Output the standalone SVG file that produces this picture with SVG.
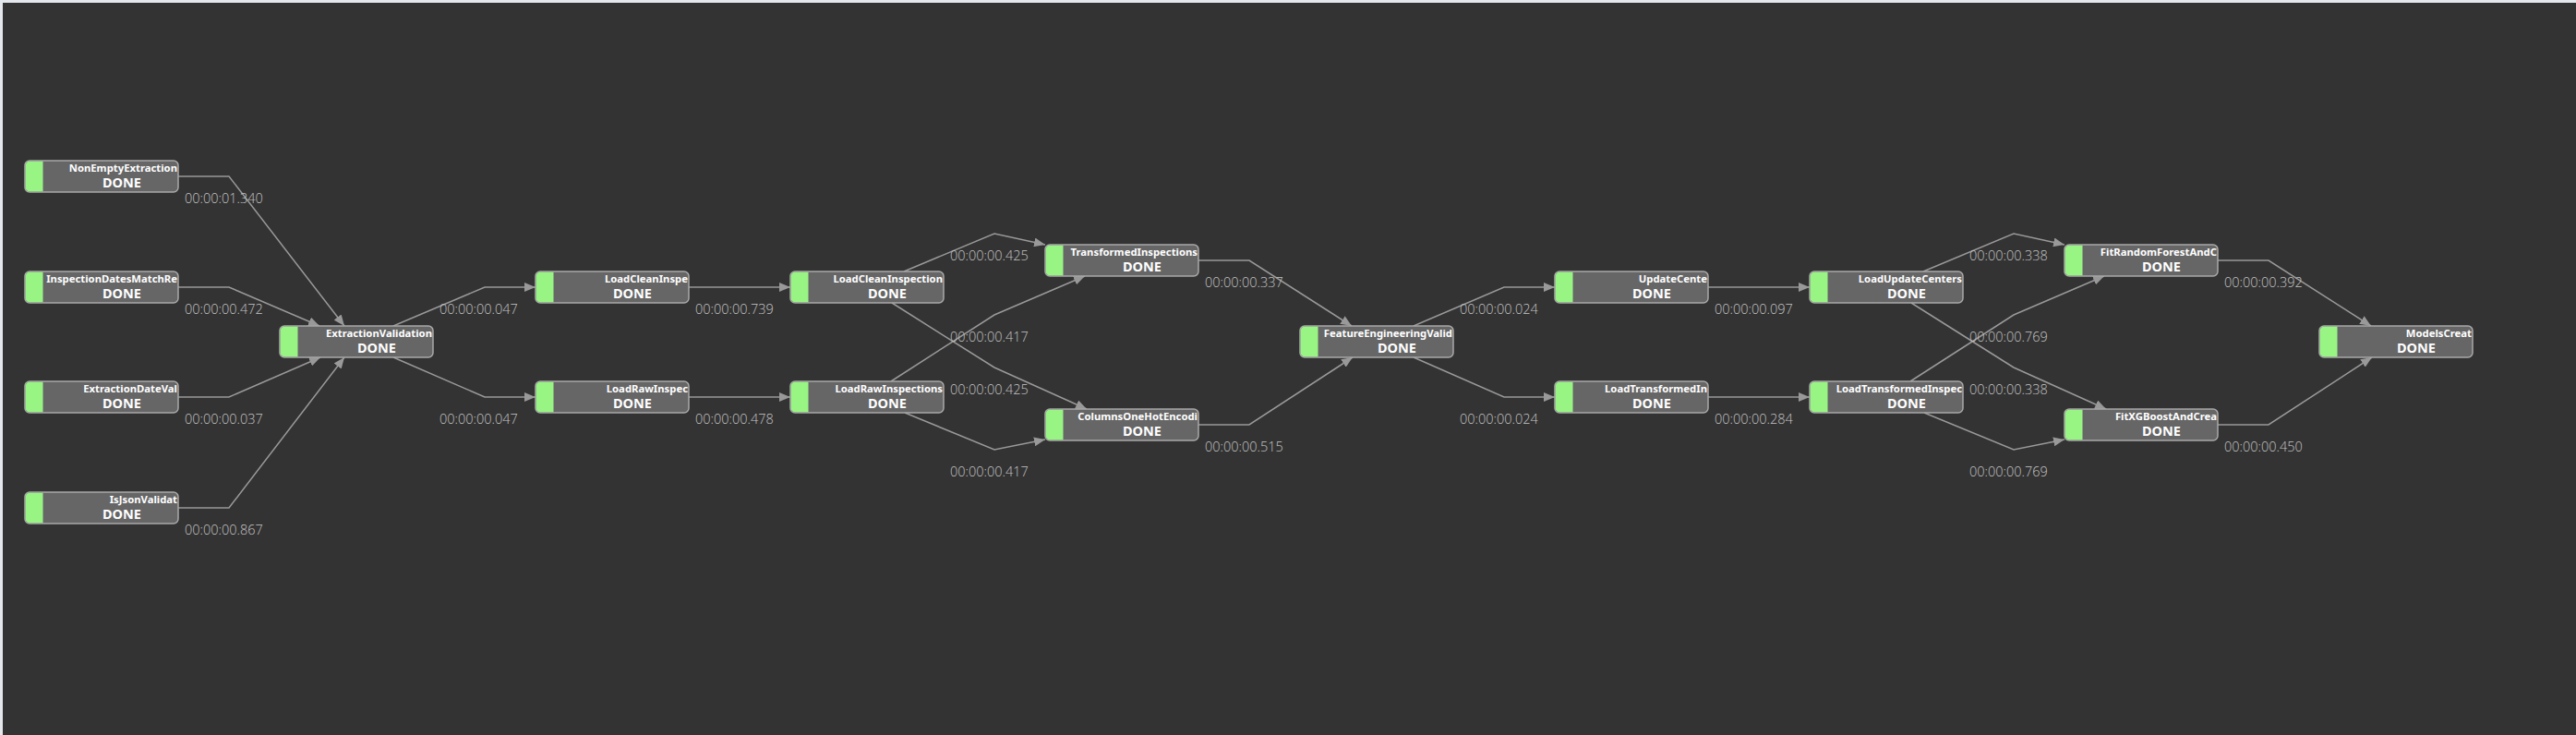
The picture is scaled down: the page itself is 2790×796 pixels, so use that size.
<svg xmlns="http://www.w3.org/2000/svg" width="2790" height="796" viewBox="0 0 2790 796">
<defs>
<style>
.box{fill:#666666;stroke:#a9a9a9;stroke-width:1.5}
.bar{fill:#98f584}
.name{font-family:"Noto Sans","Open Sans","Liberation Sans",sans-serif;font-weight:700;font-size:11.3px;fill:#ffffff;text-anchor:end}
.st{font-family:"Noto Sans","Open Sans","Liberation Sans",sans-serif;font-weight:700;font-size:14.5px;fill:#ffffff;text-anchor:middle}
.lbl{font-family:"Open Sans","Noto Sans","Liberation Sans",sans-serif;font-weight:300;font-size:14.5px;fill:#c4c4c4}
.edge{fill:none;stroke:#999999;stroke-width:1.5}
</style>
<marker id="arr" viewBox="0 0 12 10" refX="12" refY="5" markerWidth="12" markerHeight="10" markerUnits="userSpaceOnUse" orient="auto">
<path d="M0,0 L12,5 L0,10 z" fill="#999999"/>
</marker>
</defs>
<rect x="0" y="0" width="2790" height="796" fill="#e4e7eb"/>
<rect x="3" y="3" width="2787" height="793" fill="#333333"/>

<g id="connectors">
<polyline class="edge" marker-end="url(#arr)" points="193,191 248,191 373,353"/>
<polyline class="edge" marker-end="url(#arr)" points="193,311 248,311 346,353"/>
<polyline class="edge" marker-end="url(#arr)" points="193,430 248,430 347,387"/>
<polyline class="edge" marker-end="url(#arr)" points="193,550 248,550 373,387"/>
<polyline class="edge" marker-end="url(#arr)" points="426,353 525,311 580,311"/>
<polyline class="edge" marker-end="url(#arr)" points="426,387 525,430 580,430"/>
<polyline class="edge" marker-end="url(#arr)" points="746,311 856,311"/>
<polyline class="edge" marker-end="url(#arr)" points="746,430 856,430"/>
<polyline class="edge" marker-end="url(#arr)" points="979,294 1077,253 1132,265"/>
<polyline class="edge" marker-end="url(#arr)" points="966,328 1077,398 1177,443"/>
<polyline class="edge" marker-end="url(#arr)" points="965,413 1077,341 1175,299"/>
<polyline class="edge" marker-end="url(#arr)" points="980,447 1077,487 1132,476"/>
<polyline class="edge" marker-end="url(#arr)" points="1298,282 1353,282 1464,353"/>
<polyline class="edge" marker-end="url(#arr)" points="1298,460 1353,460 1465,387"/>
<polyline class="edge" marker-end="url(#arr)" points="1531,353 1629,311 1684,311"/>
<polyline class="edge" marker-end="url(#arr)" points="1531,387 1629,430 1684,430"/>
<polyline class="edge" marker-end="url(#arr)" points="1850,311 1960,311"/>
<polyline class="edge" marker-end="url(#arr)" points="1850,430 1960,430"/>
<polyline class="edge" marker-end="url(#arr)" points="2083,294 2181,253 2236,265"/>
<polyline class="edge" marker-end="url(#arr)" points="2070,328 2181,398 2281,443"/>
<polyline class="edge" marker-end="url(#arr)" points="2069,413 2181,341 2279,299"/>
<polyline class="edge" marker-end="url(#arr)" points="2084,447 2181,487 2236,476"/>
<polyline class="edge" marker-end="url(#arr)" points="2402,282 2457,282 2568,353"/>
<polyline class="edge" marker-end="url(#arr)" points="2402,460 2457,460 2569,387"/>
<text class="lbl" x="200" y="220">00:00:01.340</text>
<text class="lbl" x="200" y="340">00:00:00.472</text>
<text class="lbl" x="200" y="459">00:00:00.037</text>
<text class="lbl" x="200" y="579">00:00:00.867</text>
<text class="lbl" x="476" y="340">00:00:00.047</text>
<text class="lbl" x="476" y="459">00:00:00.047</text>
<text class="lbl" x="753" y="340">00:00:00.739</text>
<text class="lbl" x="753" y="459">00:00:00.478</text>
<text class="lbl" x="1029" y="282">00:00:00.425</text>
<text class="lbl" x="1029" y="370">00:00:00.417</text>
<text class="lbl" x="1029" y="427">00:00:00.425</text>
<text class="lbl" x="1029" y="516">00:00:00.417</text>
<text class="lbl" x="1305" y="311">00:00:00.337</text>
<text class="lbl" x="1305" y="489">00:00:00.515</text>
<text class="lbl" x="1581" y="340">00:00:00.024</text>
<text class="lbl" x="1581" y="459">00:00:00.024</text>
<text class="lbl" x="1857" y="340">00:00:00.097</text>
<text class="lbl" x="1857" y="459">00:00:00.284</text>
<text class="lbl" x="2133" y="282">00:00:00.338</text>
<text class="lbl" x="2133" y="370">00:00:00.769</text>
<text class="lbl" x="2133" y="427">00:00:00.338</text>
<text class="lbl" x="2133" y="516">00:00:00.769</text>
<text class="lbl" x="2409" y="311">00:00:00.392</text>
<text class="lbl" x="2409" y="489">00:00:00.450</text>
</g>

<g id="n1" transform="translate(27,174)"><rect class="box" width="166" height="34" rx="5"/><path class="bar" d="M5,0.75 H19.5 V33.25 H5 A4.25,4.25 0 0 1 0.75,29 V5 A4.25,4.25 0 0 1 5,0.75 z"/><text class="name" x="165" y="11.5">NonEmptyExtraction</text><text class="st" x="105" y="28.5">DONE</text></g>
<g id="n2" transform="translate(27,294)"><rect class="box" width="166" height="34" rx="5"/><path class="bar" d="M5,0.75 H19.5 V33.25 H5 A4.25,4.25 0 0 1 0.75,29 V5 A4.25,4.25 0 0 1 5,0.75 z"/><text class="name" x="165" y="11.5">InspectionDatesMatchRe</text><text class="st" x="105" y="28.5">DONE</text></g>
<g id="n3" transform="translate(27,413)"><rect class="box" width="166" height="34" rx="5"/><path class="bar" d="M5,0.75 H19.5 V33.25 H5 A4.25,4.25 0 0 1 0.75,29 V5 A4.25,4.25 0 0 1 5,0.75 z"/><text class="name" x="165" y="11.5">ExtractionDateVal</text><text class="st" x="105" y="28.5">DONE</text></g>
<g id="n4" transform="translate(27,533)"><rect class="box" width="166" height="34" rx="5"/><path class="bar" d="M5,0.75 H19.5 V33.25 H5 A4.25,4.25 0 0 1 0.75,29 V5 A4.25,4.25 0 0 1 5,0.75 z"/><text class="name" x="165" y="11.5">IsJsonValidat</text><text class="st" x="105" y="28.5">DONE</text></g>
<g id="n5" transform="translate(303,353)"><rect class="box" width="166" height="34" rx="5"/><path class="bar" d="M5,0.75 H19.5 V33.25 H5 A4.25,4.25 0 0 1 0.75,29 V5 A4.25,4.25 0 0 1 5,0.75 z"/><text class="name" x="165" y="11.5">ExtractionValidation</text><text class="st" x="105" y="28.5">DONE</text></g>
<g id="n6" transform="translate(580,294)"><rect class="box" width="166" height="34" rx="5"/><path class="bar" d="M5,0.75 H19.5 V33.25 H5 A4.25,4.25 0 0 1 0.75,29 V5 A4.25,4.25 0 0 1 5,0.75 z"/><text class="name" x="165" y="11.5">LoadCleanInspe</text><text class="st" x="105" y="28.5">DONE</text></g>
<g id="n7" transform="translate(580,413)"><rect class="box" width="166" height="34" rx="5"/><path class="bar" d="M5,0.75 H19.5 V33.25 H5 A4.25,4.25 0 0 1 0.75,29 V5 A4.25,4.25 0 0 1 5,0.75 z"/><text class="name" x="165" y="11.5">LoadRawInspec</text><text class="st" x="105" y="28.5">DONE</text></g>
<g id="n8" transform="translate(856,294)"><rect class="box" width="166" height="34" rx="5"/><path class="bar" d="M5,0.75 H19.5 V33.25 H5 A4.25,4.25 0 0 1 0.75,29 V5 A4.25,4.25 0 0 1 5,0.75 z"/><text class="name" x="165" y="11.5">LoadCleanInspection</text><text class="st" x="105" y="28.5">DONE</text></g>
<g id="n9" transform="translate(856,413)"><rect class="box" width="166" height="34" rx="5"/><path class="bar" d="M5,0.75 H19.5 V33.25 H5 A4.25,4.25 0 0 1 0.75,29 V5 A4.25,4.25 0 0 1 5,0.75 z"/><text class="name" x="165" y="11.5">LoadRawInspections</text><text class="st" x="105" y="28.5">DONE</text></g>
<g id="n10" transform="translate(1132,265)"><rect class="box" width="166" height="34" rx="5"/><path class="bar" d="M5,0.75 H19.5 V33.25 H5 A4.25,4.25 0 0 1 0.75,29 V5 A4.25,4.25 0 0 1 5,0.75 z"/><text class="name" x="165" y="11.5">TransformedInspections</text><text class="st" x="105" y="28.5">DONE</text></g>
<g id="n11" transform="translate(1132,443)"><rect class="box" width="166" height="34" rx="5"/><path class="bar" d="M5,0.75 H19.5 V33.25 H5 A4.25,4.25 0 0 1 0.75,29 V5 A4.25,4.25 0 0 1 5,0.75 z"/><text class="name" x="165" y="11.5">ColumnsOneHotEncodi</text><text class="st" x="105" y="28.5">DONE</text></g>
<g id="n12" transform="translate(1408,353)"><rect class="box" width="166" height="34" rx="5"/><path class="bar" d="M5,0.75 H19.5 V33.25 H5 A4.25,4.25 0 0 1 0.75,29 V5 A4.25,4.25 0 0 1 5,0.75 z"/><text class="name" x="165" y="11.5">FeatureEngineeringValid</text><text class="st" x="105" y="28.5">DONE</text></g>
<g id="n13" transform="translate(1684,294)"><rect class="box" width="166" height="34" rx="5"/><path class="bar" d="M5,0.75 H19.5 V33.25 H5 A4.25,4.25 0 0 1 0.75,29 V5 A4.25,4.25 0 0 1 5,0.75 z"/><text class="name" x="165" y="11.5">UpdateCente</text><text class="st" x="105" y="28.5">DONE</text></g>
<g id="n14" transform="translate(1684,413)"><rect class="box" width="166" height="34" rx="5"/><path class="bar" d="M5,0.75 H19.5 V33.25 H5 A4.25,4.25 0 0 1 0.75,29 V5 A4.25,4.25 0 0 1 5,0.75 z"/><text class="name" x="165" y="11.5">LoadTransformedIn</text><text class="st" x="105" y="28.5">DONE</text></g>
<g id="n15" transform="translate(1960,294)"><rect class="box" width="166" height="34" rx="5"/><path class="bar" d="M5,0.75 H19.5 V33.25 H5 A4.25,4.25 0 0 1 0.75,29 V5 A4.25,4.25 0 0 1 5,0.75 z"/><text class="name" x="165" y="11.5">LoadUpdateCenters</text><text class="st" x="105" y="28.5">DONE</text></g>
<g id="n16" transform="translate(1960,413)"><rect class="box" width="166" height="34" rx="5"/><path class="bar" d="M5,0.75 H19.5 V33.25 H5 A4.25,4.25 0 0 1 0.75,29 V5 A4.25,4.25 0 0 1 5,0.75 z"/><text class="name" x="165" y="11.5">LoadTransformedInspec</text><text class="st" x="105" y="28.5">DONE</text></g>
<g id="n17" transform="translate(2236,265)"><rect class="box" width="166" height="34" rx="5"/><path class="bar" d="M5,0.75 H19.5 V33.25 H5 A4.25,4.25 0 0 1 0.75,29 V5 A4.25,4.25 0 0 1 5,0.75 z"/><text class="name" x="165" y="11.5">FitRandomForestAndC</text><text class="st" x="105" y="28.5">DONE</text></g>
<g id="n18" transform="translate(2236,443)"><rect class="box" width="166" height="34" rx="5"/><path class="bar" d="M5,0.75 H19.5 V33.25 H5 A4.25,4.25 0 0 1 0.75,29 V5 A4.25,4.25 0 0 1 5,0.75 z"/><text class="name" x="165" y="11.5">FitXGBoostAndCrea</text><text class="st" x="105" y="28.5">DONE</text></g>
<g id="n19" transform="translate(2512,353)"><rect class="box" width="166" height="34" rx="5"/><path class="bar" d="M5,0.75 H19.5 V33.25 H5 A4.25,4.25 0 0 1 0.75,29 V5 A4.25,4.25 0 0 1 5,0.75 z"/><text class="name" x="165" y="11.5">ModelsCreat</text><text class="st" x="105" y="28.5">DONE</text></g>
</svg>
